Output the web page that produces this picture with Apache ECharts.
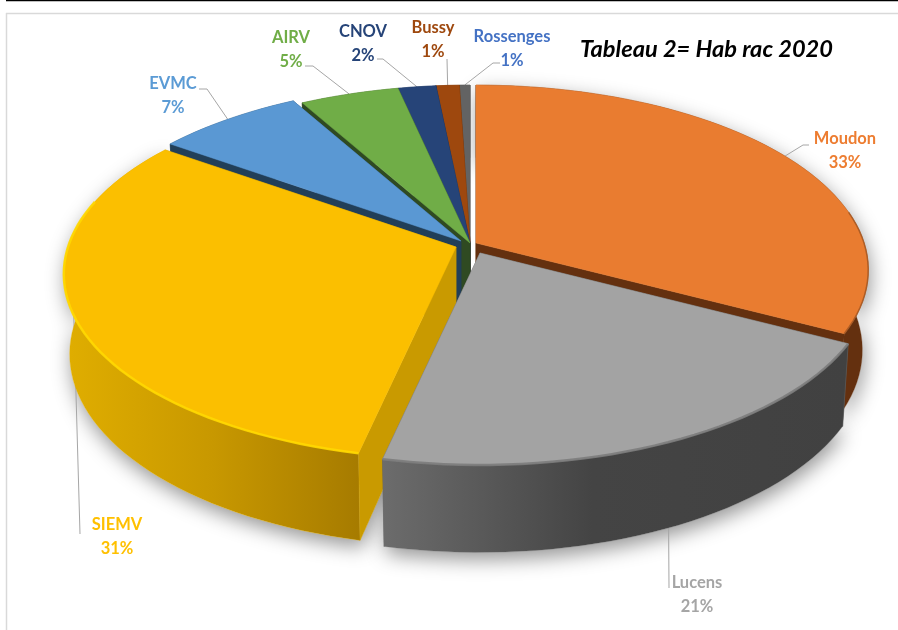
<!DOCTYPE html>
<html>
<head>
<meta charset="utf-8">
<title>Tableau 2</title>
<style>
html,body{margin:0;padding:0;background:#fff;}
#main{width:898px;height:630px;}
</style>
<script src="https://cdn.jsdelivr.net/npm/echarts@6/dist/echarts.min.js"></script>
</head>
<body>
<div id="main"></div>
<script>
// values
var categories = ['Moudon', 'Lucens', 'SIEMV', 'EVMC', 'AIRV', 'CNOV', 'Bussy', 'Rossenges'];
var values = [32.7, 20.7, 31.4, 7.0, 4.7, 1.8, 1.1, 0.5];
var titleText = 'Tableau 2= Hab rac 2020';

// colours
var topColors = ['#E97C30', '#A3A3A3', '#FBBF00', '#5A98D3', '#70AD47', '#264478', '#9E480E', '#636363'];
var labelColors = ['#ED7D31', '#A5A5A5', '#FFC000', '#5B9BD5', '#70AD47', '#264478', '#9E480E', '#4472C4'];
var cutColors = ['#64300F', '#5a5a5a', '#C99A00', '#223F58', '#2F4A22', '#16294a', '#5f2b08', '#3b3b3b'];
var rimColors = ['#A85A24', '#7c7c7c', '#FFD800', '#3f6d99', '#4c7a30', '#16294a', '#5f2b08', '#3b3b3b'];
var wallStops = [
	[[0, '#64300F'], [1, '#64300F']],
	[[0, '#6C6C6C'], [0.45, '#444444'], [1, '#414141']],
	[[0, '#E0AE00'], [0.5, '#C89800'], [1, '#A67B00']],
	[[0, '#223F58'], [1, '#223F58']],
	[[0, '#2F4A22'], [1, '#2F4A22']],
	[[0, '#16294a'], [1, '#16294a']],
	[[0, '#5f2b08'], [1, '#5f2b08']],
	[[0, '#3b3b3b'], [1, '#3b3b3b']]
];

// layout of the exploded slices (centre of each slice on the picture)
var centers = [[476, 243], [480, 253], [456, 247], [461, 241], [470, 243], [470, 243], [470, 243], [470, 243]];
var paintOrder = [7, 6, 5, 4, 3, 0, 2, 1];
var labelPos = [[845, 138], [697, 582], [117, 524], [173, 83], [291, 37], [363, 31], [433, 27], [512, 36]];
var leaderEnd = [
	[[803, 145], [809, 145]],
	[[669, 588]],
	[[80, 534]],
	[[207, 89], [199, 89]],
	[[313, 66], [305, 66]],
	[[383, 59], [377, 59]],
	[[447, 59]],
	[[493, 63], [500, 63]]
];

var RX = 388, RY = 181, PERSP = 0.146, DEPTH = 79;

function proj(c, deg, bottom) {
	var t = deg * Math.PI / 180;
	var wx = Math.sin(t), wy = Math.cos(t);
	var s = 1 / (1 + PERSP * wy);
	var dx = RX * wx * s, dy = -RY * wy * s;
	if (bottom) {
		return [c[0] + dx * 0.985, c[1] + DEPTH + dy * 1.04];
	}
	return [c[0] + dx, c[1] + dy];
}

function arc(c, a0, a1, bottom) {
	var pts = [], n = Math.max(2, Math.ceil((a1 - a0) / 2));
	for (var i = 0; i <= n; i++) {
		pts.push(proj(c, a0 + (a1 - a0) * i / n, bottom));
	}
	return pts;
}

var total = values.reduce(function (a, b) { return a + b; }, 0);

function renderSlice(params, api) {
	var i = params.dataIndex, before = 0;
	for (var k = 0; k < i; k++) {
		before += values[k];
	}
	var val = api.value(0);
	var a0 = before / total * 360, a1 = (before + val) / total * 360, mid = (a0 + a1) / 2;
	var c = centers[i], cb = [c[0], c[1] + DEPTH];
	var z = 10 + paintOrder.indexOf(i) * 10;
	var kids = [];

	var top = arc(c, a0, a1, false);
	var bot = arc(c, a0, a1, true);
	var wall = top.concat(bot.slice().reverse());

	// soft shadow under the pie
	if (a1 > 90 && a0 < 300) {
		kids.push({type: 'polygon', z2: 1, shape: {points: wall.concat([cb])},
			style: {fill: '#fff', shadowBlur: 20, shadowColor: 'rgba(0,0,0,0.42)', shadowOffsetX: 2, shadowOffsetY: 7}});
	}
	// leader line, runs behind the slices
	var rimPt = proj(c, mid, false);
	kids.push({type: 'polyline', z2: 5, shape: {points: [rimPt].concat(leaderEnd[i])},
		style: {fill: 'none', stroke: '#A6A6A6', lineWidth: 1}});

	// cut faces
	[a1, a0].forEach(function (a, n) {
		kids.push({type: 'polygon', z2: z + n, shape: {points: [c, proj(c, a, false), proj(c, a, true), cb]},
			style: {fill: cutColors[i], stroke: cutColors[i], lineWidth: 0.5}});
	});
	// outer wall
	kids.push({type: 'polygon', z2: z + 2, shape: {points: wall},
		style: {fill: new echarts.graphic.LinearGradient(0, 0, 1, 0, wallStops[i].map(function (s) {
			return {offset: s[0], color: s[1]};
		})), stroke: wallStops[i][0][1], lineWidth: 0.3}});
	// top face
	kids.push({type: 'polygon', z2: z + 3, shape: {points: [c].concat(top)},
		style: {fill: topColors[i], stroke: topColors[i], lineWidth: 0.5}});
	// lit edge on the front of the rim
	var r0 = Math.max(a0, 80), r1 = Math.min(a1, 285);
	if (r1 > r0) {
		kids.push({type: 'polyline', z2: z + 4, shape: {points: arc(c, r0, r1, false)},
			style: {fill: 'none', stroke: rimColors[i], lineWidth: i == 0 ? 1.5 : 2.5, opacity: 0.9}});
	}
	// label
	kids.push({type: 'text', z2: 500, style: {
		text: categories[i] + '\n' + Math.round(val) + '%',
		x: labelPos[i][0], y: labelPos[i][1] - 11,
		fill: labelColors[i], font: 'bold 16.5px Lato', align: 'center', verticalAlign: 'top', lineHeight: 23.5
	}});
	return {type: 'group', children: kids};
}

var myChart = echarts.init(document.getElementById('main'), null, {renderer: 'canvas'});
var option = {
	animation: false,
	backgroundColor: '#fff',
	title: {
		text: titleText,
		left: 575,
		top: 32,
		textStyle: {fontFamily: 'Lato', fontStyle: 'italic', fontWeight: 'bold', fontSize: 23.6, color: '#000'}
	},
	graphic: [
		{type: 'line', shape: {x1: 6, y1: 0.5, x2: 898, y2: 0.5}, style: {stroke: '#000', lineWidth: 1.5}},
		{type: 'line', shape: {x1: 6, y1: 13.5, x2: 898, y2: 13.5}, style: {stroke: '#D9D9D9', lineWidth: 1.5}},
		{type: 'line', shape: {x1: 6.5, y1: 13, x2: 6.5, y2: 630}, style: {stroke: '#D9D9D9', lineWidth: 1.5}}
	],
	series: [{
		type: 'custom',
		coordinateSystem: 'none',
		renderItem: renderSlice,
		data: values.map(function (v) { return [v]; }),
		silent: true
	}]
};
myChart.setOption(option);
</script>
</body>
</html>
